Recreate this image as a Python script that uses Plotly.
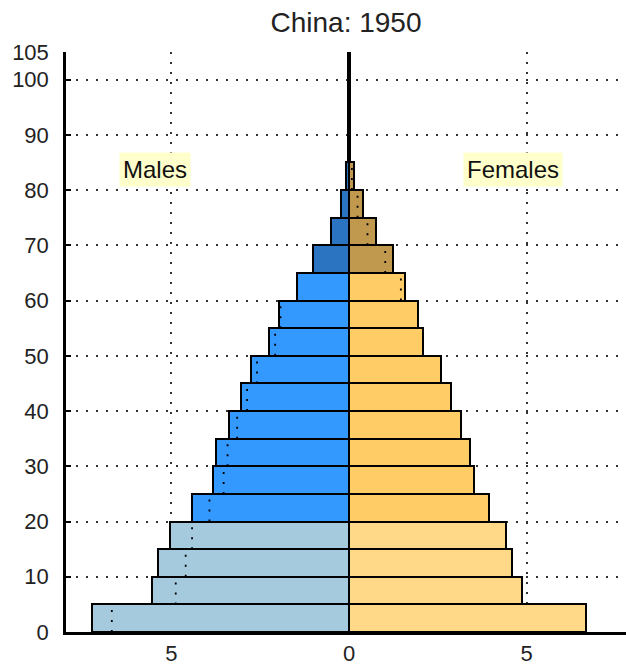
import plotly.graph_objects as go

# ---- data (percent of total population, China 1950) ----
age_start = [0, 5, 10, 15, 20, 25, 30, 35, 40, 45, 50, 55, 60, 65, 70, 75, 80, 85, 90, 95, 100]
age_labels = ["0-4", "5-9", "10-14", "15-19", "20-24", "25-29", "30-34", "35-39", "40-44",
              "45-49", "50-54", "55-59", "60-64", "65-69", "70-74", "75-79", "80-84",
              "85-89", "90-94", "95-99", "100+"]
male = [7.24, 5.55, 5.38, 5.04, 4.42, 3.83, 3.75, 3.38, 3.04, 2.76, 2.25, 1.97, 1.46,
        1.02, 0.52, 0.24, 0.08, 0.02, 0.01, 0.003, 0.001]
female = [6.68, 4.88, 4.60, 4.42, 3.93, 3.53, 3.42, 3.15, 2.87, 2.59, 2.08, 1.93, 1.58,
          1.24, 0.76, 0.39, 0.14, 0.03, 0.01, 0.004, 0.001]

y_ticks = [0, 10, 20, 30, 40, 50, 60, 70, 80, 90, 100, 105]
x_ticks = [-5, 0, 5]
x_ticktext = ["5", "0", "5"]

# ---- styles ----
M_YOUNG, M_ADULT, M_OLD = "#A6CADD", "#3399FF", "#2B74C2"
F_YOUNG, F_ADULT, F_OLD = "#FFD888", "#FFCC66", "#C0984E"


def pick(a, young, adult, old):
    if a < 20:
        return young
    if a < 65:
        return adult
    return old


male_colors = [pick(a, M_YOUNG, M_ADULT, M_OLD) for a in age_start]
female_colors = [pick(a, F_YOUNG, F_ADULT, F_OLD) for a in age_start]
centers = [a + 2.5 for a in age_start]

fig = go.Figure()
fig.add_bar(y=centers, x=[-m for m in male], orientation="h", width=5,
            marker=dict(color=male_colors, line=dict(color="black", width=2)),
            customdata=age_labels, name="Males", hovertemplate="%{customdata}: %{x}<extra></extra>")
fig.add_bar(y=centers, x=female, orientation="h", width=5,
            marker=dict(color=female_colors, line=dict(color="black", width=2)),
            customdata=age_labels, name="Females", hovertemplate="%{customdata}: %{x}<extra></extra>")

# dotted comparison lines: the other sex's value mirrored, visible inside bars
xs, ys = [], []
for a, m, f in zip(age_start, male, female):
    if a >= 85:
        continue
    mn = min(m, f)
    if f < m:
        xs += [-mn, -mn, None]
        ys += [a, a + 5, None]
    if m < f:
        xs += [mn, mn, None]
        ys += [a, a + 5, None]
fig.add_scatter(x=xs, y=ys, mode="lines", line=dict(color="black", width=1.8, dash="2px,8px"),
                hoverinfo="skip", showlegend=False)

fig.update_layout(
    width=626, height=666,
    margin=dict(l=66, r=0, t=52, b=31),
    paper_bgcolor="white", plot_bgcolor="white",
    barmode="overlay", bargap=0, showlegend=False,
    font=dict(family="Liberation Sans, Arial, sans-serif", size=22, color="#111"),
    title=dict(text="China: 1950", x=0.5, xref="paper", y=0.967, yanchor="middle",
               font=dict(size=28, color="#222")),
    annotations=[
        dict(x=-5.45, y=83.8, xref="x", yref="y", text="Males", showarrow=False,
             bgcolor="#FFFFCC", font=dict(size=24, color="#111"), borderpad=3),
        dict(x=4.62, y=83.8, xref="x", yref="y", text="Females", showarrow=False,
             bgcolor="#FFFFCC", font=dict(size=24, color="#111"), borderpad=3),
    ],
)
fig.update_xaxes(range=[-7.97, 7.80], tickvals=x_ticks, ticktext=x_ticktext,
                 showgrid=True, gridcolor="#333", gridwidth=1.8, griddash="2px,8px",
                 zeroline=True, zerolinecolor="black", zerolinewidth=3.5,
                 showline=True, linecolor="black", linewidth=2.5,
                 ticks="", tickfont=dict(size=22, color="#222"), fixedrange=True)
fig.update_yaxes(range=[0, 105], tickvals=y_ticks,
                 showgrid=True, gridcolor="#333", gridwidth=1.8, griddash="2px,8px",
                 zeroline=False, showline=True, linecolor="black", linewidth=2.5,
                 ticks="inside", ticklen=5, tickwidth=2, tickcolor="black",
                 ticklabelstandoff=10,
                 tickfont=dict(size=22, color="#222"), fixedrange=True)

fig.write_html("out.html", config={"displayModeBar": False},
               post_script="document.body.style.margin='0';")
